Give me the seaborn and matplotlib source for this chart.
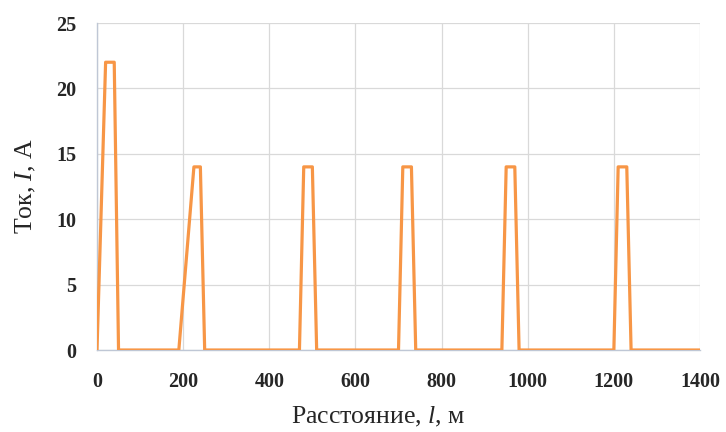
import matplotlib
matplotlib.use("Agg")
import matplotlib.pyplot as plt
import seaborn as sns
import pandas as pd

distance_m = [0, 20, 40, 50,
              190, 225, 240, 250,
              470, 480, 500, 510,
              700, 710, 730, 740,
              940, 950, 970, 980,
              1200, 1210, 1230, 1240,
              1400]
current_a = [0, 22, 22, 0,
             0, 14, 14, 0,
             0, 14, 14, 0,
             0, 14, 14, 0,
             0, 14, 14, 0,
             0, 14, 14, 0,
             0]
x_ticks = [0, 200, 400, 600, 800, 1000, 1200, 1400]
y_ticks = [0, 5, 10, 15, 20, 25]

sns.set_theme(style="white")
plt.rcParams['font.family'] = ['Liberation Serif', 'DejaVu Serif']
plt.rcParams['mathtext.fontset'] = 'custom'
plt.rcParams['mathtext.rm'] = 'Liberation Serif'
plt.rcParams['mathtext.it'] = 'Liberation Serif:italic'

df = pd.DataFrame({"x": distance_m, "y": current_a})

fig = plt.figure(figsize=(7.26, 4.32), dpi=100)
ax = fig.add_axes([97/726, 1-350/432, (700-97)/726, (350-23)/432])

sns.lineplot(data=df, x="x", y="y", estimator=None, sort=False,
             color="#F79646", linewidth=2.3, ax=ax, zorder=3)

ax.set_xlim(0, 1400)
ax.set_ylim(0, 25)
ax.set_xticks(x_ticks)
ax.set_yticks(y_ticks)
ax.grid(True, color="#D9D9D9", linewidth=0.9)
for s in ["top", "right"]:
    ax.spines[s].set_visible(False)
ax.spines["left"].set_color("#BFC7D5")
ax.spines["bottom"].set_color("#BFC7D5")
ax.spines["left"].set_linewidth(1.0)
ax.spines["bottom"].set_linewidth(1.0)
ax.tick_params(axis="x", length=0, labelsize=14.5, pad=16)
ax.tick_params(axis="y", length=0, labelsize=14.5, pad=15)
for lab in ax.get_xticklabels() + ax.get_yticklabels():
    lab.set_fontweight("bold")
ax.set_xlabel("Расстояние, $l$, м", fontsize=18.5, labelpad=9)
ax.xaxis.label.set_x(0.466)
ax.set_ylabel("Ток, $I$, А", fontsize=18.5, labelpad=13)

fig.savefig("out.png", dpi=100)
